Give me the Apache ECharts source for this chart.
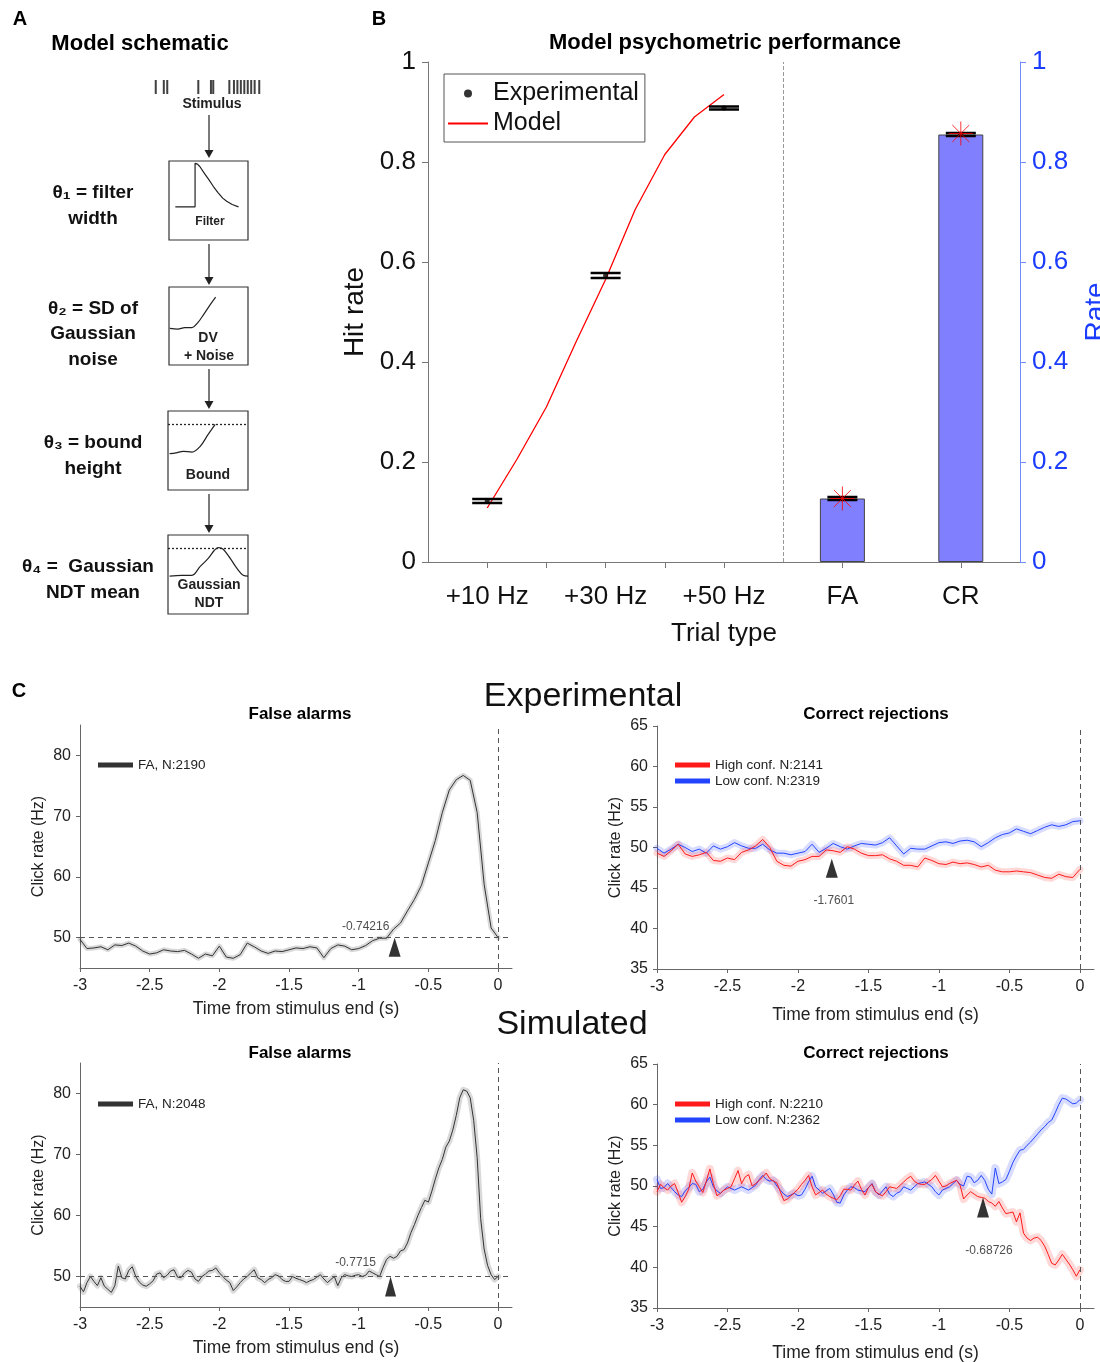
<!DOCTYPE html>
<html>
<head>
<meta charset="utf-8">
<title>Model schematic, psychometric performance and click rates</title>
<script src="https://cdn.jsdelivr.net/npm/echarts@6.0.0/dist/echarts.min.js"></script>
<style>
  body { margin: 0; background: #fff; }
  #main { width: 1100px; height: 1362px; }
</style>
</head>
<body>
<div id="main"></div>
<script>
var FONT = '"Liberation Sans", Arial, Helvetica, sans-serif';

// ---------- panel A: schematic curves (box units 0-100) ----------
var clickTimes = [5, 12, 15, 42, 53, 55, 69, 73, 76, 79, 82, 85, 88, 91, 95];
var filterCurve = [[8, 42], [33, 42], [33, 97], [36, 96], [39, 93], [45, 84], [50, 77], [56, 68], [62, 60], [68, 53], [73, 49], [80, 45], [88, 42]];
var dvCurve = [[1, 47], [11, 46], [20, 48], [29, 48], [37, 55], [44, 65], [52, 77], [59, 87]];
var boundCurve = [[2, 46], [10, 47], [19, 49], [30, 48], [40, 55], [50, 70], [59, 83]];
var ndtCurve = [[2, 48], [17, 49], [30, 49], [40, 60], [50, 70], [63, 84], [69, 82], [78, 70], [86, 58], [94, 49], [100, 48]];
var boundLevel = 83;

// ---------- panel B ----------
var trialTypes = ['+10 Hz', '+30 Hz', '+50 Hz', 'FA', 'CR'];
var trialPos = [1, 2, 3, 4, 5];
var expRate = [0.122, 0.573, 0.908, 0.127, 0.855];
var expErr = [0.004, 0.005, 0.003, 0.003, 0.003];
var modelHitPos = [1, 1.25, 1.5, 1.75, 2, 2.25, 2.5, 2.75, 3];
var modelHit = [0.108, 0.205, 0.31, 0.44, 0.565, 0.705, 0.815, 0.89, 0.935];
var barPos = [4, 5];
var barRate = [0.127, 0.855];
var modelBarRate = [0.127, 0.857];

// ---------- panel C ----------
var timeTicks = [-3, -2.5, -2, -1.5, -1, -0.5, 0];
var faTicks = [50, 60, 70, 80];
var crTicks = [35, 40, 45, 50, 55, 60, 65];

// experimental, sampled every 0.05 s from -3 to 0
var faExp = [49.7, 48.2, 48.3, 48.5, 48.0, 48.8, 48.7, 49.1, 48.6, 47.8,
  47.3, 47.5, 48.0, 47.8, 47.7, 47.9, 47.3, 46.6, 47.3, 47.0,
  48.6, 46.8, 46.6, 47.2, 49.1, 48.5, 47.8, 47.4, 47.8, 47.7,
  48.0, 48.3, 48.2, 48.5, 48.3, 46.7, 48.2, 48.8, 48.6, 48.0,
  48.2, 48.7, 49.5, 49.9, 49.9, 51.4, 52.4, 54.4, 56.3, 58.6,
  62.3, 66.0, 70.6, 74.3, 76.0, 76.7, 75.9, 70.6, 58.8, 51.6, 50.0];
var crExpLow = [49.9, 49.3, 49.8, 50.4, 50.0, 49.5, 49.8, 49.3, 50.2, 49.8,
  50.1, 50.6, 50.2, 49.9, 49.9, 50.4, 49.7, 49.3, 49.3, 49.1,
  49.3, 49.5, 50.4, 49.4, 49.9, 50.5, 50.1, 49.8, 50.2, 50.5,
  50.4, 50.3, 50.6, 51.2, 50.2, 49.2, 49.9, 49.8, 49.8, 50.2,
  50.6, 50.7, 50.5, 50.8, 50.9, 50.7, 50.1, 50.6, 51.2, 51.6,
  51.8, 52.3, 52.0, 51.7, 52.1, 52.5, 52.8, 52.6, 52.8, 53.2, 53.3];
var crExpHigh = [49.3, 48.9, 49.6, 50.4, 49.2, 48.9, 49.1, 49.4, 48.4, 48.3,
  48.7, 48.5, 49.4, 49.7, 50.2, 51.0, 50.0, 48.3, 47.8, 47.7,
  48.3, 48.5, 48.9, 48.9, 49.7, 49.6, 49.4, 50.1, 49.8, 49.3,
  49.0, 49.0, 49.1, 48.6, 48.3, 47.8, 47.8, 47.6, 48.7, 48.4,
  48.0, 47.9, 48.2, 48.0, 48.1, 47.9, 47.6, 47.8, 47.2, 47.0,
  47.0, 47.1, 47.0, 46.9, 46.6, 46.3, 46.2, 46.7, 46.4, 46.3, 47.3];

// simulated, sampled every 0.025 s from -3 to 0
var faSim = [48.4, 47.5, 49.0, 50.0, 49.2, 48.5, 49.8, 48.4, 47.9, 47.4,
  48.5, 51.7, 49.8, 49.6, 51.0, 51.6, 50.0, 49.1, 48.6, 48.4,
  48.8, 49.3, 50.4, 50.6, 49.8, 50.2, 50.9, 51.1, 49.9, 49.8,
  50.6, 51.0, 50.7, 49.6, 49.2, 50.0, 50.4, 50.9, 51.0, 51.4,
  50.6, 50.0, 49.4, 49.0, 47.7, 48.3, 49.0, 49.6, 50.0, 50.6,
  51.1, 49.8, 49.5, 49.0, 49.5, 49.8, 50.3, 50.1, 49.5, 49.2,
  49.2, 50.0, 49.7, 49.5, 49.3, 49.0, 49.3, 49.5, 49.9, 50.3,
  49.6, 49.0, 49.5, 50.0, 48.5, 49.8, 50.3, 50.1, 50.0, 50.2,
  50.3, 50.0, 50.2, 50.9, 50.6, 50.3, 50.0, 51.5, 52.8, 53.3,
  53.0, 53.3, 54.2, 54.4, 55.5, 57.2, 58.5, 60.0, 61.3, 62.5,
  62.2, 64.0, 66.0, 67.8, 69.2, 71.2, 72.2, 74.0, 76.4, 79.3,
  80.6, 80.4, 79.3, 75.6, 69.5, 59.5, 54.5, 51.8, 50.3, 49.5, 50.0];
var crSimLow = [50.8, 49.7, 49.8, 50.3, 49.8, 49.3, 48.9, 48.7, 49.4, 49.8,
  50.3, 50.2, 49.3, 49.6, 50.5, 51.1, 49.9, 49.4, 49.1, 49.5,
  49.9, 49.7, 49.5, 49.7, 49.9, 49.7, 49.5, 49.8, 50.1, 50.8,
  51.3, 50.8, 50.6, 50.7, 50.0, 49.5, 49.0, 48.7, 48.9, 49.1,
  48.8, 48.9, 49.6, 50.5, 51.2, 49.9, 49.5, 49.1, 49.4, 49.7,
  49.0, 48.0, 47.9, 48.9, 49.5, 49.9, 49.8, 49.5, 49.4, 49.3,
  49.8, 50.3, 49.3, 48.9, 49.4, 49.9, 49.0, 48.7, 49.1, 49.3,
  49.9, 49.7, 49.5, 49.9, 50.3, 50.4, 50.5, 50.2, 49.9, 49.3,
  48.9, 49.5, 49.7, 49.9, 50.3, 50.7, 50.2, 50.0, 51.2, 51.1,
  50.4, 50.7, 51.3, 50.7, 49.6, 49.0, 52.2, 50.3, 50.5, 50.8,
  51.8, 52.9, 53.7, 54.4, 54.5, 55.0, 55.4, 55.9, 56.4, 56.9,
  57.3, 57.8, 58.1, 59.0, 60.0, 60.8, 60.7, 60.4, 60.1, 60.2, 60.6];
var crSimHigh = [49.3, 50.2, 49.8, 49.5, 50.0, 50.3, 49.2, 48.0, 48.7, 49.6,
  51.6, 50.6, 49.9, 49.2, 50.6, 52.1, 50.3, 48.8, 49.1, 49.5,
  49.7, 49.9, 50.9, 51.9, 50.3, 51.1, 51.4, 50.0, 50.3, 50.7,
  51.1, 51.6, 50.9, 50.6, 50.4, 49.3, 48.2, 48.4, 48.8, 49.2,
  49.6, 50.2, 50.7, 51.3, 49.9, 48.9, 49.2, 49.5, 49.0, 48.7,
  48.5, 48.3, 48.8, 49.6, 49.6, 49.5, 50.1, 50.6, 49.6, 48.9,
  49.8, 50.2, 49.3, 49.0, 48.8, 49.3, 49.9, 49.8, 49.7, 50.1,
  50.5, 50.9, 51.2, 50.6, 50.3, 50.2, 50.2, 50.5, 50.8, 51.3,
  50.6, 49.9, 50.0, 50.3, 50.5, 50.7, 50.1, 48.4, 48.9, 49.3,
  49.0, 48.7, 48.6, 48.5, 48.1, 47.9, 47.5, 48.1, 47.3, 46.6,
  46.7, 46.8, 45.6, 46.7, 44.2, 43.6, 43.3, 43.6, 43.7, 43.3,
  42.6, 41.6, 40.5, 40.3, 40.9, 41.6, 41.0, 40.4, 39.7, 38.9, 39.7];

// divergence markers: time, value at the tip
var arrowTimes = [-0.74216, -1.7601, -0.7715, -0.68726];
var arrowTips = [50, 48.6, 50, 48.6];

function sampleTimes(step, n) {
  var out = [];
  for (var i = 0; i < n; i++) out.push(Math.round((-3 + i * step) * 1000) / 1000);
  return out;
}
var tExp = sampleTimes(0.05, faExp.length);
var tSim = sampleTimes(0.025, faSim.length);
function pairs(xs, ys) {
  return ys.map(function (v, i) { return [xs[i], v]; });
}

var chart = echarts.init(document.getElementById('main'));

// ---------- layout ----------
var grids = [
  {left: 428, top: 62, width: 592, height: 500},     // 0 panel B
  {left: 80, top: 725, width: 432, height: 243},     // 1 exp FA
  {left: 657, top: 726, width: 437, height: 243},    // 2 exp CR
  {left: 80, top: 1063, width: 432, height: 244},    // 3 sim FA
  {left: 657, top: 1064, width: 437, height: 244},   // 4 sim CR
  {left: 150, top: 80, width: 115, height: 14},      // 5 stimulus clicks
  {left: 169, top: 161, width: 79, height: 79, show: true},  // 6 filter
  {left: 169, top: 287, width: 79, height: 78, show: true},  // 7 DV + noise
  {left: 168, top: 411, width: 80, height: 79, show: true},  // 8 bound
  {left: 168, top: 535, width: 80, height: 79, show: true}   // 9 NDT
].map(function (g) {
  g.containLabel = false;
  g.outerBoundsMode = 'none';
  if (g.show) { g.borderColor = '#333'; g.borderWidth = 1.2; g.backgroundColor = 'transparent'; }
  return g;
});

var axisGray = '#666';

function timeAxis(gi, gap) {
  return {
    gridIndex: gi, type: 'value', min: -3, max: 0.1,
    axisLine: {onZero: false, lineStyle: {color: axisGray}},
    axisTick: {customValues: timeTicks, length: 4, lineStyle: {color: axisGray}},
    axisLabel: {customValues: timeTicks, fontSize: 16, color: '#222', margin: 10, fontFamily: FONT},
    splitLine: {show: false},
    name: 'Time from stimulus end (s)', nameLocation: 'middle', nameGap: gap,
    nameTextStyle: {fontSize: 17.5, color: '#222', fontFamily: FONT}
  };
}
function rateAxis(gi, min, max, ticks) {
  return {
    gridIndex: gi, type: 'value', min: min, max: max, position: 'left',
    axisLine: {show: true, onZero: false, lineStyle: {color: axisGray}},
    axisTick: {show: true, customValues: ticks, length: 4, lineStyle: {color: axisGray}},
    axisLabel: {customValues: ticks, fontSize: 16, color: '#222', margin: 9, fontFamily: FONT},
    splitLine: {show: false},
    name: 'Click rate (Hz)', nameLocation: 'middle', nameGap: 33, nameRotate: 90,
    nameTextStyle: {fontSize: 16, color: '#222', fontFamily: FONT}
  };
}
function hiddenAxis(gi) {
  return {gridIndex: gi, type: 'value', min: 0, max: 100, show: false};
}

var xAxes = [
  {
    gridIndex: 0, type: 'value', min: 0.5, max: 5.5,
    axisLine: {onZero: false, lineStyle: {color: '#777'}},
    axisTick: {customValues: [1, 1.5, 2, 2.5, 3, 4, 5], length: 6, lineStyle: {color: '#777'}},
    axisLabel: {
      customValues: trialPos, fontSize: 26, color: '#111', margin: 22, fontFamily: FONT,
      formatter: function (v) { return trialTypes[Math.round(v) - 1]; }
    },
    splitLine: {show: false},
    name: 'Trial type', nameLocation: 'middle', nameGap: 59,
    nameTextStyle: {fontSize: 26, color: '#111', fontFamily: FONT}
  },
  timeAxis(1, 32), timeAxis(2, 37), timeAxis(3, 32), timeAxis(4, 36),
  hiddenAxis(5), hiddenAxis(6), hiddenAxis(7), hiddenAxis(8), hiddenAxis(9)
];

var yAxes = [
  {
    gridIndex: 0, type: 'value', min: 0, max: 1, interval: 0.2, position: 'left',
    axisLine: {show: true, onZero: false, lineStyle: {color: '#777'}},
    axisTick: {show: true, length: 6, lineStyle: {color: '#777'}},
    axisLabel: {fontSize: 26, color: '#111', margin: 12, fontFamily: FONT},
    splitLine: {show: false},
    name: 'Hit rate', nameLocation: 'middle', nameGap: 56, nameRotate: 90,
    nameTextStyle: {fontSize: 28, color: '#111', fontFamily: FONT}
  },
  {
    gridIndex: 0, type: 'value', min: 0, max: 1, interval: 0.2, position: 'right',
    axisLine: {show: true, onZero: false, lineStyle: {color: '#6f8cff'}},
    axisTick: {show: true, length: 6, lineStyle: {color: '#6f8cff'}},
    axisLabel: {fontSize: 26, color: '#1a3cff', margin: 12, fontFamily: FONT},
    splitLine: {show: false},
    name: 'Rate', nameLocation: 'middle', nameGap: 62, nameRotate: 90,
    nameTextStyle: {fontSize: 28, color: '#1a3cff', fontFamily: FONT}
  },
  rateAxis(1, 45, 85, faTicks), rateAxis(2, 35, 65, crTicks),
  rateAxis(3, 45, 85, faTicks), rateAxis(4, 35, 65, crTicks),
  {gridIndex: 5, type: 'value', min: 0, max: 1, show: false},
  hiddenAxis(6), hiddenAxis(7), hiddenAxis(8), hiddenAxis(9)
];

// ---------- series ----------
var series = [];

// panel B
series.push({
  type: 'bar', name: 'Rate bars', xAxisIndex: 0, yAxisIndex: 1,
  data: pairs(barPos, barRate), barWidth: 45, z: 1,
  itemStyle: {color: '#8080ff', borderColor: '#444', borderWidth: 1}
});
series.push({
  type: 'line', name: 'Model', xAxisIndex: 0, yAxisIndex: 0,
  data: pairs(modelHitPos, modelHit), symbol: 'none', z: 3,
  itemStyle: {color: '#ff0000'}, lineStyle: {color: '#ff0000', width: 1.3},
  markLine: {
    silent: true, symbol: ['none', 'none'], label: {show: false},
    lineStyle: {type: 'dashed', color: '#999', width: 1},
    data: [{xAxis: 3.5}]
  }
});
series.push({
  type: 'custom', name: 'Experimental error', xAxisIndex: 0, yAxisIndex: 0, z: 4,
  data: expRate.map(function (v, i) { return [trialPos[i], v, expErr[i]]; }),
  renderItem: function (params, api) {
    var x = api.value(0), y = api.value(1), e = api.value(2);
    var lo = api.coord([x, y - e]), hi = api.coord([x, y + e]);
    var hw = 15, st = {stroke: '#000', lineWidth: 2.5};
    return {type: 'group', children: [
      {type: 'line', shape: {x1: lo[0] - hw, y1: lo[1], x2: lo[0] + hw, y2: lo[1]}, style: st},
      {type: 'line', shape: {x1: hi[0] - hw, y1: hi[1], x2: hi[0] + hw, y2: hi[1]}, style: st}
    ]};
  }
});
series.push({
  type: 'scatter', name: 'Experimental', xAxisIndex: 0, yAxisIndex: 0, z: 5,
  data: pairs(trialPos, expRate), symbol: 'circle', symbolSize: 5,
  itemStyle: {color: '#000'}
});
series.push({
  type: 'scatter', name: 'Model rate', xAxisIndex: 0, yAxisIndex: 1, z: 6,
  data: pairs(barPos, modelBarRate),
  symbol: 'path://M0,-10L0,10M-10,0L10,0M-7.07,-7.07L7.07,7.07M-7.07,7.07L7.07,-7.07',
  symbolSize: 24,
  itemStyle: {color: 'rgba(0,0,0,0)', borderColor: '#ff0000', borderWidth: 1}
});

// panel C
function trace(gi, name, times, values, color, bandColor, bandWidth) {
  series.push({
    type: 'line', xAxisIndex: gi, yAxisIndex: gi + 1, silent: true, z: 1,
    data: pairs(times, values), symbol: 'none',
    lineStyle: {color: bandColor, width: bandWidth, join: 'round', cap: 'round'}
  });
  series.push({
    type: 'line', name: name, xAxisIndex: gi, yAxisIndex: gi + 1, z: 2,
    data: pairs(times, values), symbol: 'none',
    itemStyle: {color: color}, lineStyle: {color: color, width: 1}
  });
}
function guides(gi, withBaseline) {
  var d = [{xAxis: 0}];
  if (withBaseline) d.unshift({yAxis: 50});
  series.push({
    type: 'line', xAxisIndex: gi, yAxisIndex: gi + 1, data: [], silent: true,
    markLine: {
      silent: true, symbol: ['none', 'none'], label: {show: false}, animation: false,
      lineStyle: {type: [5, 4], color: '#555', width: 1}, data: d
    }
  });
}
function arrow(gi, k, size, labelPos, labelOffset) {
  series.push({
    type: 'scatter', xAxisIndex: gi, yAxisIndex: gi + 1, z: 5, silent: true,
    data: [[arrowTimes[k], arrowTips[k]]],
    symbol: 'triangle', symbolSize: size, symbolOffset: [0, '50%'],
    itemStyle: {color: '#000'},
    label: {
      show: true, position: labelPos, offset: labelOffset, distance: 5,
      formatter: String(arrowTimes[k]), fontSize: 12, color: '#222', fontFamily: FONT
    }
  });
}

var gray = '#333', red = '#ff1a1a', blue = '#2244ff';
var grayBand = 'rgba(0,0,0,0.15)', redBand = 'rgba(255,40,40,0.18)', blueBand = 'rgba(40,60,255,0.18)';

guides(1, true);
trace(1, 'FA, N:2190', tExp, faExp, gray, grayBand, 5);
arrow(1, 0, [12, 19], 'top', [-29, 0]);

guides(2, false);
trace(2, 'Low conf. N:2319', tExp, crExpLow, blue, blueBand, 7);
trace(2, 'High conf. N:2141', tExp, crExpHigh, red, redBand, 7);
arrow(2, 1, [12, 19], 'bottom', [2, 12]);

guides(3, true);
trace(3, 'FA, N:2048', tSim, faSim, gray, grayBand, 6);
arrow(3, 2, [11, 20], 'top', [-35, -3]);

guides(4, false);
trace(4, 'Low conf. N:2362', tSim, crSimLow, blue, blueBand, 8);
trace(4, 'High conf. N:2210', tSim, crSimHigh, red, redBand, 8);
arrow(4, 3, [12, 20], 'bottom', [6, 22]);

// panel A (schematic)
series.push({
  type: 'scatter', xAxisIndex: 5, yAxisIndex: 6, silent: true,
  data: clickTimes.map(function (t) { return [t, 0.5]; }),
  symbol: 'rect', symbolSize: [2, 14], itemStyle: {color: '#111'}
});
[filterCurve, dvCurve, boundCurve, ndtCurve].forEach(function (c, i) {
  var s = {
    type: 'line', xAxisIndex: 6 + i, yAxisIndex: 7 + i, silent: true,
    data: c, symbol: 'none', smooth: i === 0 ? false : 0.35,
    lineStyle: {color: '#222', width: 1.2}
  };
  if (i >= 2) {
    s.markLine = {
      silent: true, symbol: ['none', 'none'], label: {show: false},
      lineStyle: {type: [2, 2], color: '#222', width: 1.3}, data: [{yAxis: boundLevel}]
    };
  }
  series.push(s);
});

// ---------- legends ----------
var legends = [
  {
    left: 444, top: 74, orient: 'vertical',
    data: ['Experimental', {name: 'Model', itemStyle: {color: 'rgba(0,0,0,0)', borderWidth: 0}}],
    borderColor: '#555', borderWidth: 1, padding: [7, 6, 6, 3], itemGap: 5,
    itemWidth: 40, itemHeight: 8, selectedMode: false,
    textStyle: {fontSize: 25, color: '#111', fontFamily: FONT}
  }
];
function cLegend(left, top, names) {
  legends.push({
    left: left, top: top, orient: 'vertical', padding: 0, itemGap: 2,
    itemWidth: 35, itemHeight: 5, selectedMode: false,
    data: names.map(function (n) { return {name: n, icon: 'rect'}; }),
    textStyle: {fontSize: 13.5, color: '#222', fontFamily: FONT}
  });
}
cLegend(98, 758, ['FA, N:2190']);
cLegend(675, 758, ['High conf. N:2141', 'Low conf. N:2319']);
cLegend(98, 1097, ['FA, N:2048']);
cLegend(675, 1097, ['High conf. N:2210', 'Low conf. N:2362']);

// ---------- free text and schematic arrows ----------
var graphics = [];
function txt(x, y, s, font, color) {
  graphics.push({
    type: 'text', x: x, y: y, silent: true,
    style: {text: s, font: font + ' ' + FONT, fill: color || '#000',
      align: 'center', verticalAlign: 'middle', textAlign: 'center', textVerticalAlign: 'middle'}
  });
}
function down(x, y1, y2) {
  graphics.push({type: 'line', silent: true, shape: {x1: x, y1: y1, x2: x, y2: y2 - 7},
    style: {stroke: '#222', lineWidth: 1.2}});
  graphics.push({type: 'polygon', silent: true,
    shape: {points: [[x - 4.5, y2 - 8], [x + 4.5, y2 - 8], [x, y2]]}, style: {fill: '#222'}});
}

txt(20, 19, 'A', 'bold 20px');
txt(379, 19, 'B', 'bold 20px');
txt(19, 691, 'C', 'bold 20px');

txt(140, 44, 'Model schematic', 'bold 22px');
txt(212, 104, 'Stimulus', 'bold 14px', '#222');
txt(93, 193, 'θ\u2081 = filter', 'bold 19px', '#111');
txt(93, 219, 'width', 'bold 19px', '#111');
txt(93, 309, 'θ\u2082 = SD of', 'bold 19px', '#111');
txt(93, 334, 'Gaussian', 'bold 19px', '#111');
txt(93, 360, 'noise', 'bold 19px', '#111');
txt(93, 443, 'θ\u2083 = bound', 'bold 19px', '#111');
txt(93, 469, 'height', 'bold 19px', '#111');
txt(88, 567, 'θ\u2084 =  Gaussian', 'bold 19px', '#111');
txt(93, 593, 'NDT mean', 'bold 19px', '#111');
txt(210, 222, 'Filter', 'bold 12px', '#222');
txt(208, 338, 'DV', 'bold 14px', '#222');
txt(209, 356, '+ Noise', 'bold 14px', '#222');
txt(208, 475, 'Bound', 'bold 14px', '#222');
txt(209, 585, 'Gaussian', 'bold 14px', '#222');
txt(209, 603, 'NDT', 'bold 14px', '#222');
down(209, 115, 158);
down(209, 244, 285);
down(209, 369, 409);
down(209, 494, 533);

txt(725, 43, 'Model psychometric performance', 'bold 22px');

txt(583, 697, 'Experimental', '34px', '#111');
txt(572, 1025, 'Simulated', '34px', '#111');
txt(300, 714, 'False alarms', 'bold 17px');
txt(876, 714, 'Correct rejections', 'bold 17px');
txt(300, 1053, 'False alarms', 'bold 17px');
txt(876, 1053, 'Correct rejections', 'bold 17px');

chart.setOption({
  animation: false,
  backgroundColor: '#fff',
  textStyle: {fontFamily: FONT},
  grid: grids,
  xAxis: xAxes,
  yAxis: yAxes,
  legend: legends,
  series: series,
  graphic: {elements: graphics}
});
</script>
</body>
</html>
